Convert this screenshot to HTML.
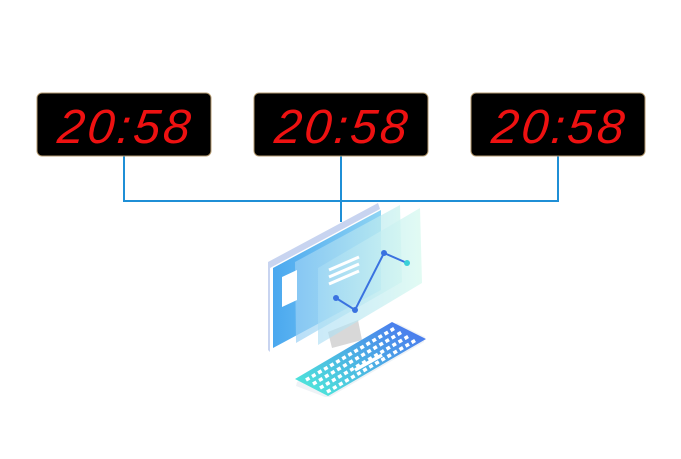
<!DOCTYPE html>
<html><head><style>
html,body{margin:0;padding:0;background:#fff;}
svg{display:block}
</style></head><body>
<svg width="681" height="459" viewBox="0 0 681 459" xmlns="http://www.w3.org/2000/svg">
<defs>
<linearGradient id="scr1" x1="0" y1="0" x2="1" y2="0"><stop offset="0" stop-color="#4aa8ef"/><stop offset="1" stop-color="#8fd4f3"/></linearGradient>
<linearGradient id="scr2" x1="0" y1="0" x2="1" y2="0"><stop offset="0" stop-color="#9ad0f5" stop-opacity=".7"/><stop offset="1" stop-color="#c9f3ee" stop-opacity=".7"/></linearGradient>
<linearGradient id="scr3" x1="0" y1="0" x2="1" y2="0"><stop offset="0" stop-color="#a8dcf4" stop-opacity=".6"/><stop offset="1" stop-color="#dafaf0" stop-opacity=".8"/></linearGradient>
<linearGradient id="kb" x1="0" y1="1" x2="1" y2="0"><stop offset="0" stop-color="#4ef0d8"/><stop offset="1" stop-color="#4a6ef0"/></linearGradient>
</defs>
<g stroke="#1f8fd6" stroke-width="2" fill="none">
<path d="M124 156V201H558V156M341 156V222"/>
</g>
<g font-family="Liberation Sans, sans-serif" font-size="48" font-style="italic" fill="#ee1111">
<rect x="37" y="93" width="174" height="63" rx="5" fill="#000" stroke="#b49a70" stroke-width="1"/>
<text x="124" y="143" text-anchor="middle" letter-spacing="3" transform="skewX(-6) translate(15,0)">20:58</text>
<rect x="254" y="93" width="174" height="63" rx="5" fill="#000" stroke="#b49a70" stroke-width="1"/>
<text x="341" y="143" text-anchor="middle" letter-spacing="3" transform="skewX(-6) translate(15,0)">20:58</text>
<rect x="471" y="93" width="174" height="63" rx="5" fill="#000" stroke="#b49a70" stroke-width="1"/>
<text x="558" y="143" text-anchor="middle" letter-spacing="3" transform="skewX(-6) translate(15,0)">20:58</text>
</g>
<!-- monitor -->
<polygon points="268,262 378,203 380,209 270,268 270,352 268,350" fill="#c8d4f0"/>
<polygon points="273,268 381,210 381,290 273,348" fill="url(#scr1)"/>
<polygon points="328,332 358,320 362,340 332,348" fill="#d8d8d8"/>
<polygon points="295,262 400,205 402,282 296,343" fill="url(#scr2)"/>
<polygon points="318,268 420,208 422,283 318,345" fill="url(#scr3)"/>
<polygon points="282,277 297,270 297,300 282,307" fill="#fff"/>
<g stroke="#fff" stroke-width="3"><line x1="329" y1="270" x2="359" y2="257"/><line x1="329" y1="277" x2="359" y2="264"/><line x1="329" y1="284" x2="359" y2="271"/></g>
<polyline points="336,298 355,310 384,253 407,263" fill="none" stroke="#3a72e0" stroke-width="2"/>
<g fill="#3a72e0"><circle cx="336" cy="298" r="3"/><circle cx="355" cy="310" r="3"/><circle cx="384" cy="253" r="3"/><circle cx="407" cy="263" r="3" fill="#3ad0d8"/></g>
<!-- keyboard -->
<polygon points="297,382 391,325 397,323 425,337 424,342 330,397 325,397 296,386" fill="#eef2f6"/>
<polygon points="295,379 392,322 426,339 328,396" fill="url(#kb)"/>
<g stroke="#fff" stroke-width="3.5" stroke-dasharray="4 3">
<line x1="306" y1="380" x2="395" y2="328"/>
<line x1="313" y1="384" x2="402" y2="332"/>
<line x1="320" y1="388" x2="409" y2="336"/>
<line x1="327" y1="392" x2="416" y2="340"/>
</g>
<line x1="355" y1="370" x2="382" y2="355" stroke="#fff" stroke-width="3.5"/>
</svg>
</body></html>
